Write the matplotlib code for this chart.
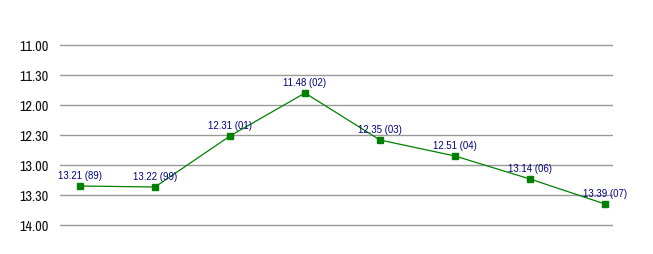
import matplotlib.pyplot as plt
from matplotlib import font_manager

# race times as min.sec, with the season they were set in
times = ["13.21", "13.22", "12.31", "11.48", "12.35", "12.51", "13.14", "13.39"]
years = ["89", "99", "01", "02", "03", "04", "06", "07"]
tick_labels = ["11.00", "11.30", "12.00", "12.30", "13.00", "13.30", "14.00"]


def to_seconds(t):
    m, s = t.split(".")
    return int(m) * 60 + int(s)


secs = [to_seconds(t) for t in times]
tick_secs = [to_seconds(t) for t in tick_labels]

names = {f.name for f in font_manager.fontManager.ttflist}
if "Archivo Narrow" in names:
    tick_font = dict(family="Archivo Narrow", fontsize=10.3)
else:
    tick_font = dict(family="DejaVu Sans", fontstretch="condensed", fontsize=8.5)

W, H = 653, 255
fig = plt.figure(figsize=(W / 100, H / 100), dpi=100)
# axes span 5 px beyond the outer gridlines so none get clipped
ax = fig.add_axes([60 / W, 24 / H, 553 / W, 190 / H])

x = list(range(len(secs)))
ax.plot(x, secs, color="#008000", lw=0.9, marker="s", ms=4, mec="#008000", mfc="#008000", zorder=3)

for xi, s, t, yr in zip(x, secs, times, years):
    ax.annotate("%s (%s)" % (t, yr), (xi, s), xytext=(0, 4.5), textcoords="offset points",
                ha="center", va="bottom", fontsize=6.9, color="#000080",
                family="Liberation Sans", zorder=4)

ax.set_xlim((60 - 80) / 75, (613 - 80) / 75)
ax.set_ylim(tick_secs[-1] + 5, tick_secs[0] - 5)
ax.set_yticks(tick_secs)
ax.set_yticklabels(tick_labels, color="#111111", **tick_font)
ax.set_xticks([])
ax.tick_params(axis="y", length=0, pad=8)
ax.grid(axis="y", color="#999999", lw=1)
ax.set_axisbelow(True)
for sp in ax.spines.values():
    sp.set_visible(False)
ax.patch.set_alpha(0)

fig.savefig("out.png", dpi=100)
